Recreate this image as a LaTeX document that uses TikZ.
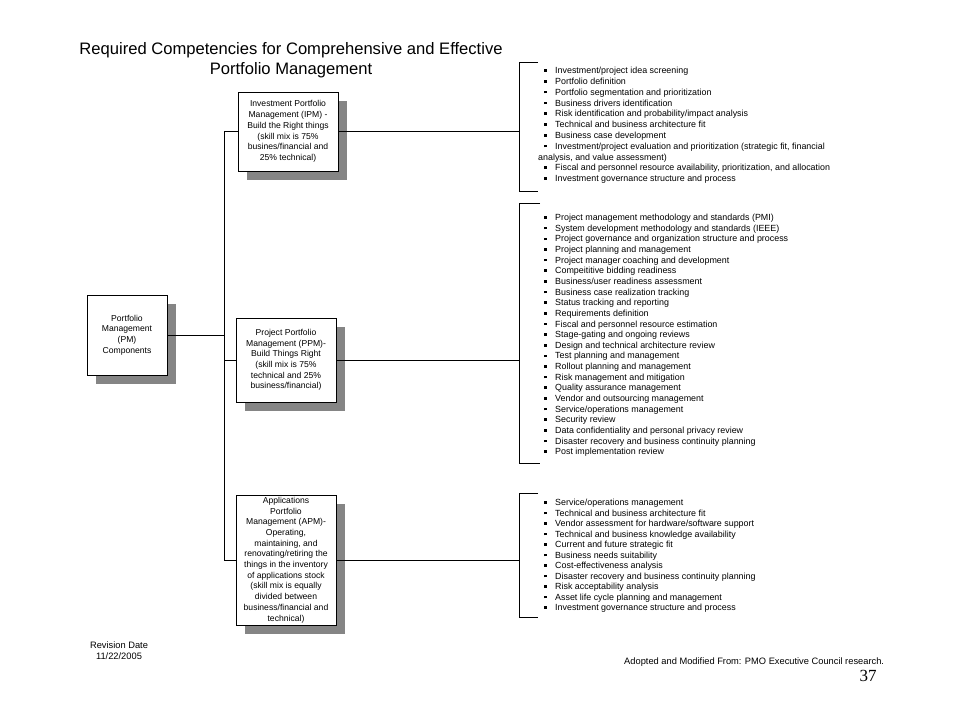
\documentclass[tikz,border=0pt]{standalone}
\usepackage{fontspec}
\setmainfont{Liberation Sans}
\newfontfamily\pagenumfont{Liberation Serif}
\usetikzlibrary{shadows}
\definecolor{shadowgray}{HTML}{858585}
\newcommand{\bul}{\makebox[17pt][l]{\hspace{6pt}\rule[1.8pt]{2.6pt}{2.6pt}}}
\begin{document}
\begin{tikzpicture}[x=1pt,y=-1pt,
  line/.style={line width=0.9pt, draw=black},
  box/.style={draw=black, line width=0.9pt, fill=white, align=center, inner sep=0pt,
    font=\fontsize{8.6}{10.7}\selectfont,
    general shadow={fill=shadowgray, shadow xshift=9pt, shadow yshift=-9pt}},
  item/.style={inner sep=0pt, anchor=mid west, font=\fontsize{8.9}{10}\selectfont},
  note/.style={inner sep=0pt, align=center, font=\fontsize{9.3}{11}\selectfont}
]
\useasboundingbox (0,0) rectangle (960,720);

% title
\node[inner sep=0pt, align=center, font=\fontsize{16.6}{20}\selectfont] (title) at (291,60)
  {Required Competencies for Comprehensive and Effective\\Portfolio Management};

% boxes
\node[box, minimum width=80pt, minimum height=80pt] (pm) at (127,335)
  {Portfolio\\Management\\(PM)\\Components};
\node[box, minimum width=100pt, minimum height=79pt] (ipm) at (288,131.5)
  {Investment Portfolio\\Management (IPM) -\\Build the Right things\\(skill mix is 75\%\\busines/financial and\\25\% technical)};
\node[box, minimum width=100pt, minimum height=84pt] (ppm) at (286,360)
  {Project Portfolio\\Management (PPM)-\\Build Things Right\\(skill mix is 75\%\\technical and 25\%\\business/financial)};
\node[box, minimum width=100pt, minimum height=130pt] (apm) at (286,560)
  {Applications\\Portfolio\\Management (APM)-\\Operating,\\maintaining, and\\renovating/retiring the\\things in the inventory\\of applications stock\\(skill mix is equally\\divided between\\business/financial and\\technical)};

% trunk
\coordinate (trunk) at (224,0);
\draw[line] (pm.east) -- (pm.east -| trunk);
\draw[line] (ipm.west -| trunk) -- (apm.west -| trunk);
\draw[line] (ipm.west -| trunk) -- (ipm.west);
\draw[line] (ppm.west -| trunk) -- (ppm.west);
\draw[line] (apm.west -| trunk) -- (apm.west);

% brackets
\coordinate (b1t) at (519,62);  \coordinate (b1b) at (519,191);
\coordinate (b2t) at (519,203); \coordinate (b2b) at (519,463);
\coordinate (b3t) at (519,493); \coordinate (b3b) at (519,617);
\draw[line] (ipm.east) -- (ipm.east -| b1t);
\draw[line] (ppm.east) -- (ppm.east -| b2t);
\draw[line] (apm.east) -- (apm.east -| b3t);
\draw[line] ([xshift=19pt]b1t) -- (b1t) -- (b1b) -- ([xshift=19pt]b1b);
\draw[line] ([xshift=21pt]b2t) -- (b2t) -- (b2b) -- ([xshift=21pt]b2b);
\draw[line] ([xshift=19pt]b3t) -- (b3t) -- (b3b) -- ([xshift=19pt]b3b);

% list 1
\foreach [count=\i] \t in {
  {\bul Investment/project idea screening},
  {\bul Portfolio definition},
  {\bul Portfolio segmentation and prioritization},
  {\bul Business drivers identification},
  {\bul Risk identification and probability/impact analysis},
  {\bul Technical and business architecture fit},
  {\bul Business case development},
  {\bul Investment/project evaluation and prioritization (strategic fit, financial},
  {analysis, and value assessment)},
  {\bul Fiscal and personnel resource availability, prioritization, and allocation},
  {\bul Investment governance structure and process}}
  {\node[item] (la\i) at (538,{71+(\i-1)*10.8}) {\t};}

% list 2
\foreach [count=\i] \t in {
  Project management methodology and standards (PMI),
  System development methodology and standards (IEEE),
  Project governance and organization structure and process,
  Project planning and management,
  Project manager coaching and development,
  Compeititive bidding readiness,
  Business/user readiness assessment,
  Business case realization tracking,
  Status tracking and reporting,
  Requirements definition,
  Fiscal and personnel resource estimation,
  Stage-gating and ongoing reviews,
  Design and technical architecture review,
  Test planning and management,
  Rollout planning and management,
  Risk management and mitigation,
  Quality assurance management,
  Vendor and outsourcing management,
  Service/operations management,
  Security review,
  Data confidentiality and personal privacy review,
  Disaster recovery and business continuity planning,
  Post implementation review}
  {\node[item] (lb\i) at (538,{218+(\i-1)*10.64}) {\bul\t};}

% list 3
\foreach [count=\i] \t in {
  Service/operations management,
  Technical and business architecture fit,
  Vendor assessment for hardware/software support,
  Technical and business knowledge availability,
  Current and future strategic fit,
  Business needs suitability,
  Cost-effectiveness analysis,
  Disaster recovery and business continuity planning,
  Risk acceptability analysis,
  Asset life cycle planning and management,
  Investment governance structure and process}
  {\node[item] (lc\i) at (538,{503+(\i-1)*10.5}) {\bul\t};}

% footer
\node[note] (rev) at (119,651) {Revision Date\\11/22/2005};
\node[note, anchor=mid west] (src) at (624,662) {Adopted and Modified From: PMO Executive Council research.};
\node[inner sep=0pt, font=\pagenumfont\fontsize{17}{17}\selectfont] (pg) at (868,676) {37};
\end{tikzpicture}
\end{document}
